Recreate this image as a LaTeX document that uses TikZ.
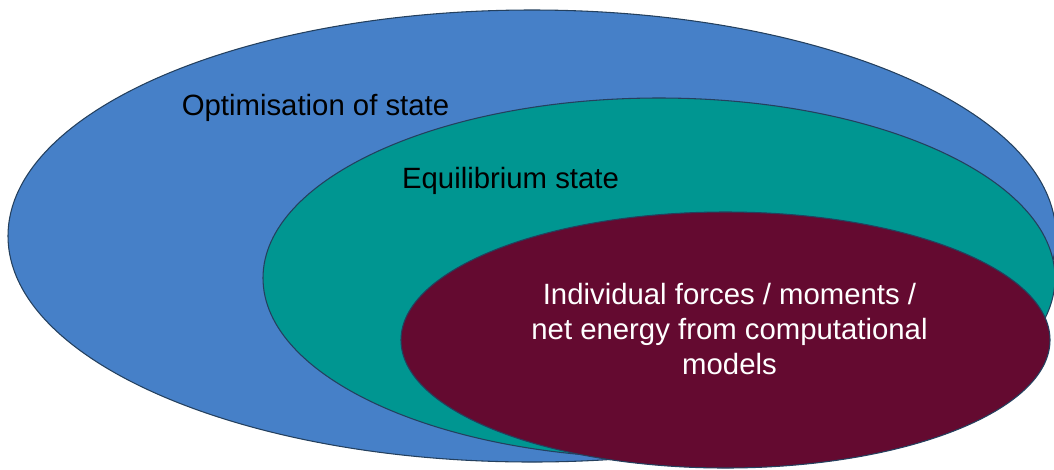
\documentclass[tikz,border=0pt]{standalone}
\usepackage{fontspec}
\setmainfont{Liberation Sans}
\usetikzlibrary{shapes.geometric}
\definecolor{outerblue}{HTML}{4680C8}
\definecolor{eqteal}{HTML}{009691}
\definecolor{forcemaroon}{HTML}{640A30}
\definecolor{rimcol}{HTML}{24405E}
\tikzset{
  setellipse/.style={ellipse, draw=rimcol, line width=0.8pt, inner sep=0pt, outer sep=0pt},
  setlabel/.style={inner sep=0pt, font=\fontsize{22}{26.25}\selectfont}
}
\begin{document}
\begin{tikzpicture}[x=0.75pt, y=-0.75pt]
            \useasboundingbox (0,0) rectangle (1054,469);
            \clip (0,0) rectangle (1054,469);
            \node[setellipse, fill=outerblue, minimum width=1048*0.75pt, minimum height=452*0.75pt] (optim) at (532,236) {};
            \node[setellipse, fill=eqteal, minimum width=792*0.75pt, minimum height=360*0.75pt] (equil) at (659,278) {};
            \node[setellipse, fill=forcemaroon, minimum width=649*0.75pt, minimum height=256*0.75pt] (forces) at (725.5,340) {};
            \node[setlabel, anchor=base] (optimtext) at (315.5,115) {Optimisation of state};
            \node[setlabel, anchor=base] (equiltext) at (510.5,188) {Equilibrium state};
            \node[setlabel, text=white, align=center] (forcestext) at (729.5,329)
            {Individual forces / moments /\\net energy from computational\\models};
            \end{tikzpicture}
\end{document}
